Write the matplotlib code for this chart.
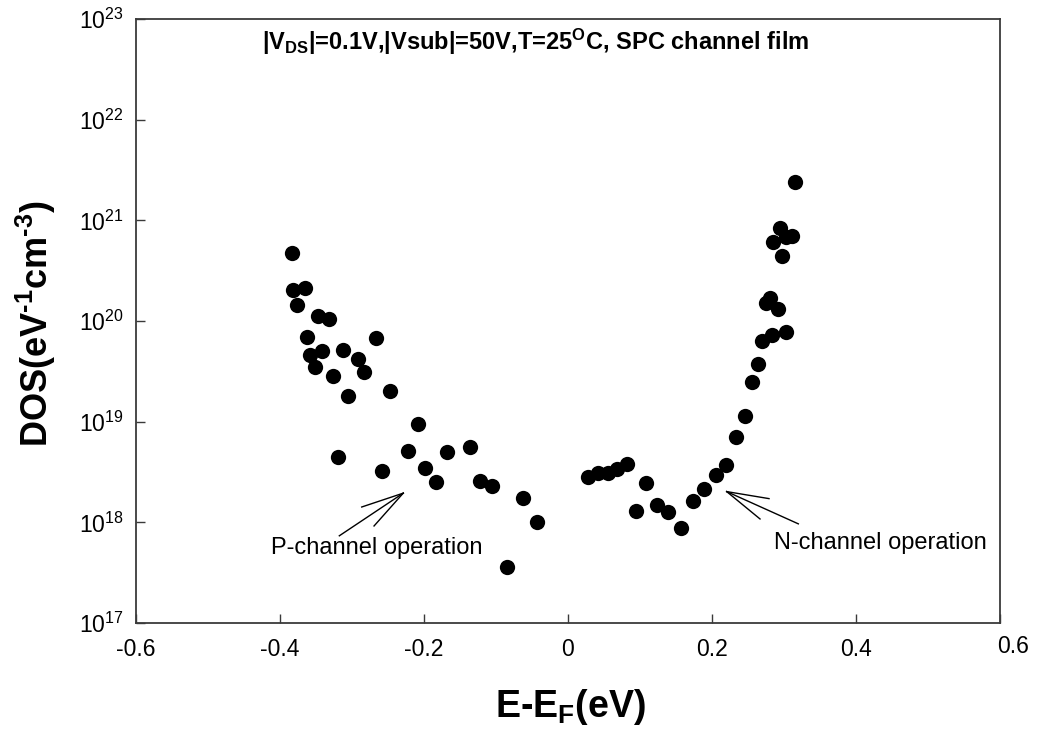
import matplotlib
matplotlib.use("Agg")
import matplotlib.pyplot as plt
from matplotlib import font_manager as fm
from matplotlib.ticker import FixedLocator, FixedFormatter, NullLocator
from matplotlib.transforms import ScaledTranslation

# ---------------- data ----------------
p_energy = [-0.384, -0.382, -0.377, -0.365, -0.362, -0.358, -0.352, -0.347, -0.342, -0.332,
            -0.326, -0.320, -0.312, -0.306, -0.291, -0.283, -0.267, -0.259, -0.247, -0.222,
            -0.209, -0.198, -0.184, -0.168, -0.136, -0.122, -0.105, -0.085, -0.063, -0.043]
p_dos = [4.7e20, 2.04e20, 1.45e20, 2.15e20, 7.0e19, 4.6e19, 3.5e19, 1.12e20, 5.0e19, 1.05e20,
         2.85e19, 4.5e18, 5.2e19, 1.8e19, 4.2e19, 3.1e19, 6.8e19, 3.2e18, 2.0e19, 5.1e18,
         9.4e18, 3.5e18, 2.5e18, 5.0e18, 5.6e18, 2.6e18, 2.3e18, 3.6e17, 1.74e18, 1.0e18]

n_energy = [0.028, 0.042, 0.056, 0.068, 0.082, 0.095, 0.109, 0.124, 0.139, 0.157,
            0.173, 0.189, 0.206, 0.220, 0.234, 0.246, 0.256, 0.264, 0.270, 0.275,
            0.281, 0.284, 0.285, 0.292, 0.295, 0.297, 0.303, 0.303, 0.311, 0.315]
n_dos = [2.85e18, 3.1e18, 3.1e18, 3.4e18, 3.8e18, 1.3e18, 2.45e18, 1.49e18, 1.26e18, 8.75e17,
         1.64e18, 2.15e18, 2.97e18, 3.7e18, 7.1e18, 1.15e19, 2.45e19, 3.7e19, 6.4e19, 1.52e20,
         1.68e20, 7.3e19, 6.15e20, 1.31e20, 8.4e20, 4.4e20, 6.8e20, 7.85e19, 7.0e20, 2.4e21]

x_ticks = [-0.6, -0.4, -0.2, 0.0, 0.2, 0.4, 0.6]
x_tick_labels = ["-0.6", "-0.4", "-0.2", "0", "0.2", "0.4", "0.6"]
y_exponents = [17, 18, 19, 20, 21, 22, 23]

# ---------------- fonts ----------------
names = {f.name for f in fm.fontManager.ttflist}
narrow = "Liberation Sans Narrow" if "Liberation Sans Narrow" in names else "Liberation Sans"
title_size = 20 if narrow == "Liberation Sans Narrow" else 17
plt.rcParams["font.family"] = ["Liberation Sans", "DejaVu Sans"]
plt.rcParams["axes.unicode_minus"] = False
plt.rcParams["mathtext.fontset"] = "custom"
plt.rcParams["mathtext.rm"] = narrow + ":bold"
plt.rcParams["mathtext.bf"] = "Liberation Sans:bold"
plt.rcParams["mathtext.sf"] = "Liberation Sans"
plt.rcParams["mathtext.it"] = "Liberation Sans:italic"

W, H = 1038, 735
fig = plt.figure(figsize=(W / 100, H / 100), dpi=100)
ax = fig.add_axes([136 / W, 1 - 623 / H, 864 / W, 604 / H])

ax.plot(p_energy, p_dos, linestyle="none", marker="o", markersize=11,
        color="black", markeredgewidth=0)
ax.plot(n_energy, n_dos, linestyle="none", marker="o", markersize=11,
        color="black", markeredgewidth=0)

ax.set_yscale("log")
ax.set_xlim(-0.6, 0.6)
ax.set_ylim(1e17, 1e23)

ax.xaxis.set_major_locator(FixedLocator(x_ticks))
ax.xaxis.set_major_formatter(FixedFormatter(x_tick_labels))
y_vals = [10.0 ** e for e in y_exponents]
ax.yaxis.set_major_locator(FixedLocator(y_vals))
ax.yaxis.set_major_formatter(FixedFormatter([r"$\mathsf{10^{%d}}$" % e for e in y_exponents]))
ax.yaxis.set_minor_locator(NullLocator())
ax.xaxis.set_minor_locator(NullLocator())

spine_col = "#3a3a3a"
for s in ax.spines.values():
    s.set_color(spine_col)
    s.set_linewidth(1.3)
ax.tick_params(axis="both", which="major", direction="in", length=6.5, width=1.0,
               color=spine_col, labelsize=16.5, top=False, right=False)
ax.tick_params(axis="x", pad=11)
ax.tick_params(axis="y", pad=9)

# last x label sits a little to the right in the reference
lbl = ax.get_xticklabels()[-1]
lbl.set_transform(lbl.get_transform() + ScaledTranslation(0.13, 0.03, fig.dpi_scale_trans))

# title
ax.text(0.462, 0.962,
        r"$\text{|V}_{\text{DS}}\text{|=0.1V,|Vsub|=50V,T=25}^{\text{O}}\text{C, SPC channel film}$",
        transform=ax.transAxes, ha="center", va="center", fontsize=title_size)

# axis labels
fig.text(36 / W, 1 - 324 / H, r"$\mathbf{DOS(eV^{\text{-}1}cm^{\text{-}3})}$",
         rotation=90, ha="center", va="center", fontsize=26)
fig.text(570 / W, 1 - 707 / H, r"$\mathbf{E}\text{-}\mathbf{E_{F}(eV)}$",
         ha="center", va="center", fontsize=27)

# annotation arrows (open arrowheads drawn as lines)
def open_arrow(tip, tail, barb1, barb2):
    for end in (tail, barb1, barb2):
        ax.plot([tip[0], end[0]], [tip[1], end[1]], color="black", lw=1.0)

open_arrow((-0.2288, 1.95e18), (-0.3176, 7.35e17), (-0.2865, 1.42e18), (-0.2694, 9.2e17))
open_arrow((0.2204, 2.02e18), (0.3199, 9.66e17), (0.2792, 1.72e18), (0.2667, 1.08e18))

ax.text(-0.2657, 5.6e17, "P-channel operation", ha="center", va="center", fontsize=17)
ax.text(0.4333, 6.2e17, "N-channel operation", ha="center", va="center", fontsize=17)

fig.savefig("out.png", dpi=100)
